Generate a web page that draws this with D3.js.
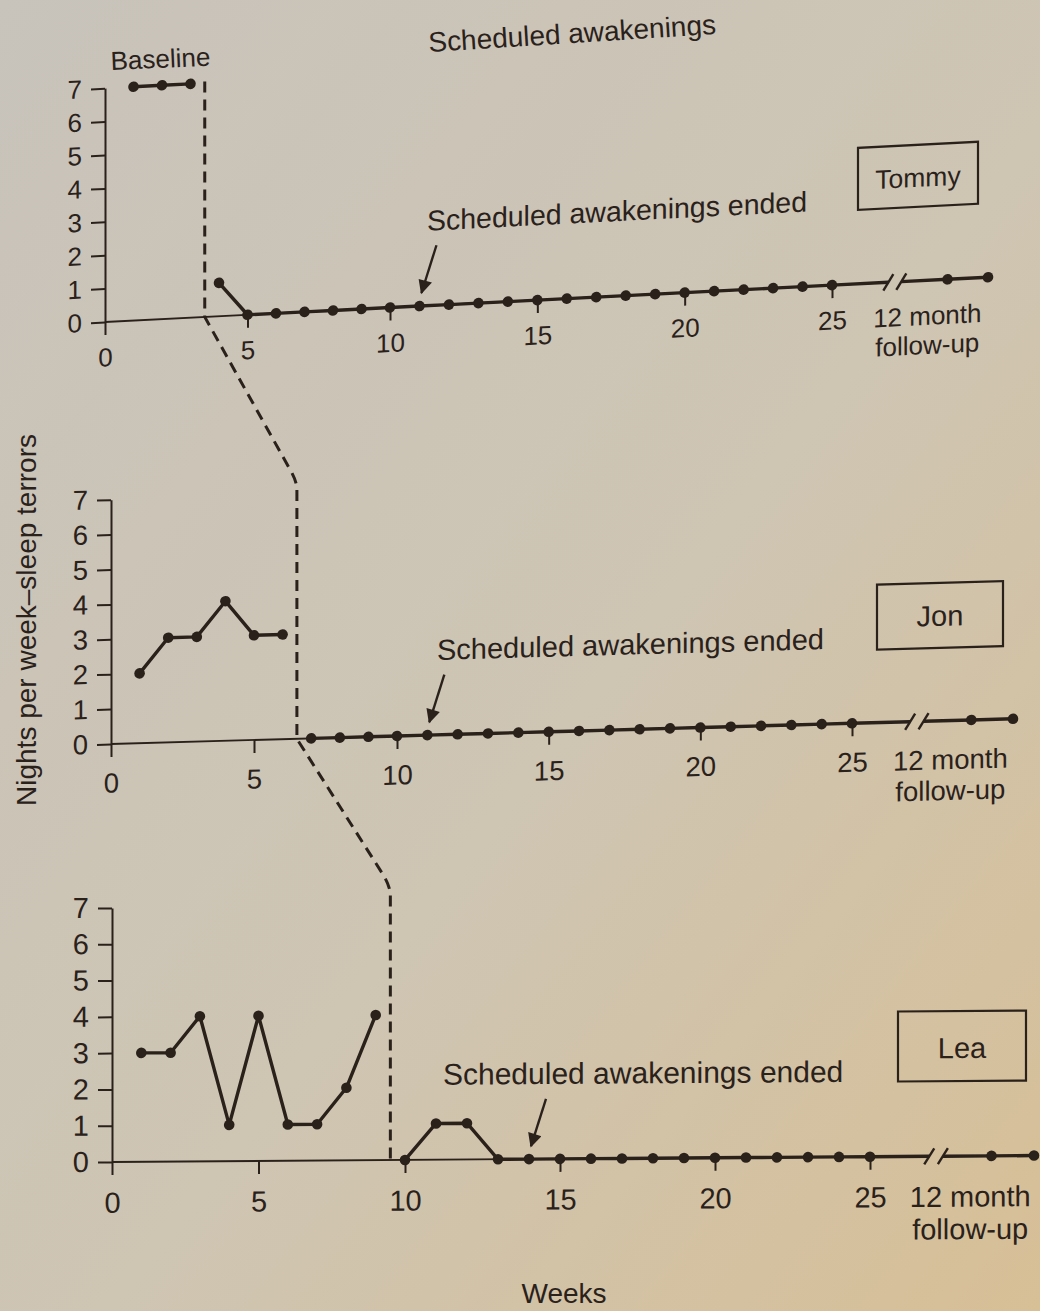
<!DOCTYPE html>
<html>
<head>
<meta charset="utf-8">
<script src="https://cdn.jsdelivr.net/npm/d3@7"></script>
<style>
  html, body { margin: 0; padding: 0; }
  body { width: 1040px; height: 1311px; overflow: hidden; }
</style>
</head>
<body>
<div class="diagram"></div>
<script>
// nights per week with sleep terrors
const tommyBaseline  = [7, 7, 7];                       // weeks 1-3
const tommyTreatment = [1, 0, 0, 0, 0, 0, 0, 0, 0, 0, 0,
                        0, 0, 0, 0, 0, 0, 0, 0, 0, 0, 0]; // weeks 4-25
const tommyFollowUp  = [0, 0];
const tommyEnded = 11;

const jonBaseline  = [2, 3, 3, 4, 3, 3];                // weeks 1-6
const jonTreatment = [0, 0, 0, 0, 0, 0, 0, 0, 0, 0,
                      0, 0, 0, 0, 0, 0, 0, 0, 0];       // weeks 7-25
const jonFollowUp  = [0, 0];
const jonEnded = 11;

const leaBaseline  = [3, 3, 4, 1, 4, 1, 1, 2, 4];       // weeks 1-9
const leaTreatment = [0, 1, 1, 0, 0, 0, 0, 0,
                      0, 0, 0, 0, 0, 0, 0, 0];          // weeks 10-25
const leaFollowUp  = [0, 0];
const leaEnded = 14;

const weekTicks = [0, 5, 10, 15, 20, 25];
const valueTicks = [0, 1, 2, 3, 4, 5, 6, 7];
const followUpLabel = ["12 month", "follow-up"];

const W = 1040, H = 1311;
const ink = "#2a211b";
const font = "'Liberation Sans', Arial, Helvetica, sans-serif";

// where the follow-up points and the axis break sit on the week scale
const followUpAt = [29, 30.4];
const breakAt = [26.95, 27.4];

const panels = [
  {name: "Tommy", baseline: tommyBaseline, treatment: tommyTreatment, followUp: tommyFollowUp, ended: tommyEnded,
   xRange: [105, 390, 832, 988], oy: 322, unit: 33.4, skew: -2.9, tick: 26, pad: 13, ann: 28.5, annX: 427,
   box: [858, -136, 120, 62], nameSize: 26.5, nameDy: 42, phaseTop: 7.05},
  {name: "Jon", baseline: jonBaseline, treatment: jonTreatment, followUp: jonFollowUp, ended: jonEnded,
   xRange: [111, 397, 852, 1013], oy: 744, unit: 34.9, skew: -1.6, tick: 27.5, pad: 16, ann: 29, annX: 437,
   box: [877, -138, 126, 65], nameSize: 29, nameDy: 43, phaseTop: 7.15},
  {name: "Lea", baseline: leaBaseline, treatment: leaTreatment, followUp: leaFollowUp, ended: leaEnded,
   xRange: [112, 405, 870, 1034], oy: 1162, unit: 36.3, skew: -0.4, tick: 29, pad: 17, ann: 30, annX: 443,
   box: [898, -145, 128, 70], nameSize: 29, nameDy: 47, phaseTop: 7.3}
];

const svg = d3.select(".diagram")
  .append("svg")
    .attr("width", W)
    .attr("height", H);

// paper background
const defs = svg.append("defs");
const grad = defs.append("linearGradient")
  .attr("id", "paper")
  .attr("x1", 0).attr("y1", 0).attr("x2", 1).attr("y2", 1);
grad.append("stop").attr("offset", "0%").attr("stop-color", "#c8c3bb");
grad.append("stop").attr("offset", "55%").attr("stop-color", "#cec5b3");
grad.append("stop").attr("offset", "100%").attr("stop-color", "#d7bf96");
svg.append("rect").attr("width", W).attr("height", H).attr("fill", "url(#paper)");

defs.append("marker")
  .attr("id", "head")
  .attr("viewBox", "0 0 10 10")
  .attr("refX", 9).attr("refY", 5)
  .attr("markerUnits", "userSpaceOnUse")
  .attr("markerWidth", 16).attr("markerHeight", 14)
  .attr("orient", "auto")
  .append("path")
    .attr("d", "M0,0L10,5L0,10z")
    .attr("fill", ink);

const phasePoints = [];

panels.forEach(p => {
  const x = d3.scaleLinear().domain([0, 10, 25, 30.4]).range(p.xRange);
  const y = d3.scaleLinear().domain([0, 7]).range([0, -7 * p.unit]);
  const ox = p.xRange[0];
  const tan = Math.tan(p.skew * Math.PI / 180);
  // page position of a (week, value) pair, used for the dashed connector
  const page = (w, v) => [x(w), p.oy + y(v) + (x(w) - ox) * tan];

  const g = svg.append("g")
    .attr("transform", `translate(${ox},${p.oy}) skewY(${p.skew}) translate(${-ox},0)`);

  // x axis line up to the break
  g.append("line")
    .attr("x1", x(0)).attr("x2", x(breakAt[0]))
    .attr("y1", 0).attr("y2", 0)
    .attr("stroke", ink).attr("stroke-width", 1.8);

  const yAxis = g.append("g")
    .attr("transform", `translate(${x(0)},0)`)
    .call(d3.axisLeft(y).tickValues(valueTicks).tickFormat(d3.format("d"))
      .tickSize(14).tickSizeOuter(0).tickPadding(9));

  const xAxis = g.append("g")
    .call(d3.axisBottom(x).tickValues(weekTicks).tickFormat(d3.format("d"))
      .tickSize(13).tickSizeOuter(0).tickPadding(p.pad));
  xAxis.select(".domain").remove();

  [yAxis, xAxis].forEach(a => {
    a.attr("font-family", font).attr("font-size", p.tick);
    a.selectAll(".domain, .tick line").attr("stroke", ink).attr("stroke-width", 2);
    a.selectAll(".tick text").attr("fill", ink);
  });

  // 12 month follow-up label
  const fuText = g.append("text")
    .attr("x", x(28.3))
    .attr("y", 13 + p.pad + p.tick * 0.71)
    .attr("text-anchor", "middle")
    .attr("font-family", font)
    .attr("font-size", p.tick)
    .attr("fill", ink);
  followUpLabel.forEach((t, i) => {
    fuText.append("tspan").attr("x", x(28.3)).attr("dy", i ? "1.12em" : 0).text(t);
  });

  // data
  const line = d3.line().x(d => x(d[0])).y(d => y(d[1]));
  const basePts = p.baseline.map((v, i) => [i + 1, v]);
  const start = p.baseline.length + 1;
  const treatPts = p.treatment.map((v, i) => [start + i, v]);
  const fuPts = p.followUp.map((v, i) => [followUpAt[i], v]);
  const last = treatPts[treatPts.length - 1];

  [basePts, treatPts.concat([[breakAt[0], last[1]]]), [[breakAt[1], p.followUp[0]]].concat(fuPts)]
    .forEach(seg => {
      g.append("path")
        .datum(seg)
        .attr("d", line)
        .attr("fill", "none")
        .attr("stroke", ink)
        .attr("stroke-width", 3.4)
        .attr("stroke-linejoin", "round");
    });

  g.selectAll(null)
    .data(basePts.concat(treatPts, fuPts))
    .join("circle")
      .attr("cx", d => x(d[0]))
      .attr("cy", d => y(d[1]))
      .attr("r", 5.3)
      .attr("fill", ink);

  // axis break marks
  breakAt.forEach(b => {
    g.append("line")
      .attr("x1", x(b) - 5).attr("y1", 8)
      .attr("x2", x(b) + 5).attr("y2", -8)
      .attr("stroke", ink).attr("stroke-width", 2.4);
  });

  // "Scheduled awakenings ended" with arrow
  g.append("text")
    .attr("x", p.annX).attr("y", -75)
    .attr("font-family", font).attr("font-size", p.ann)
    .attr("fill", ink)
    .text("Scheduled awakenings ended");
  g.append("line")
    .attr("x1", x(p.ended) + 17).attr("y1", -60)
    .attr("x2", x(p.ended) + 2).attr("y2", -13)
    .attr("stroke", ink).attr("stroke-width", 2.4)
    .attr("marker-end", "url(#head)");

  // name box
  g.append("rect")
    .attr("x", p.box[0]).attr("y", p.box[1])
    .attr("width", p.box[2]).attr("height", p.box[3])
    .attr("fill", "none").attr("stroke", ink).attr("stroke-width", 2.2);
  g.append("text")
    .attr("x", p.box[0] + p.box[2] / 2).attr("y", p.box[1] + p.nameDy)
    .attr("text-anchor", "middle")
    .attr("font-family", font).attr("font-size", p.nameSize)
    .attr("fill", ink)
    .text(p.name);

  const phase = p.baseline.length + 0.5;
  phasePoints.push({top: page(phase, p.phaseTop), bottom: page(phase, 0)});
});

// dashed phase-change line running through the three panels
const dash = d3.path();
phasePoints.forEach((ph, i) => {
  if (i === 0) {
    dash.moveTo(ph.top[0], ph.top[1]);
  } else {
    const prev = phasePoints[i - 1].bottom;
    dash.lineTo(ph.top[0] - 7, ph.top[1] - 20);
    dash.quadraticCurveTo(ph.top[0], ph.top[1] - 8, ph.top[0], ph.top[1]);
  }
  dash.lineTo(ph.bottom[0], ph.bottom[1]);
});
svg.append("path")
  .attr("d", dash.toString())
  .attr("fill", "none")
  .attr("stroke", ink)
  .attr("stroke-width", 3)
  .attr("stroke-dasharray", "11,7");

// titles and axis labels
svg.append("text")
  .attr("transform", "translate(111,70) rotate(-2.5)")
  .attr("font-family", font).attr("font-size", 26).attr("fill", ink)
  .text("Baseline");

svg.append("text")
  .attr("transform", "translate(429,52) rotate(-3.6)")
  .attr("font-family", font).attr("font-size", 28).attr("fill", ink)
  .text("Scheduled awakenings");

svg.append("text")
  .attr("x", 564).attr("y", 1303)
  .attr("text-anchor", "middle")
  .attr("font-family", font).attr("font-size", 28).attr("fill", ink)
  .text("Weeks");

svg.append("text")
  .attr("transform", "translate(36,620) rotate(-90)")
  .attr("text-anchor", "middle")
  .attr("font-family", font).attr("font-size", 28).attr("fill", ink)
  .text("Nights per week–sleep terrors");
</script>
</body>
</html>
